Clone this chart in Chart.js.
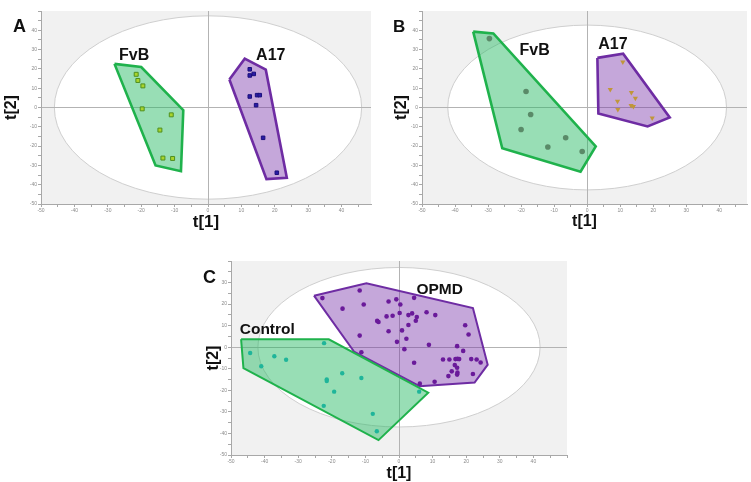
<!DOCTYPE html>
<html><head><meta charset="utf-8">
<script src="https://cdn.jsdelivr.net/npm/chart.js@4/dist/chart.umd.min.js"></script>
<style>
html,body{margin:0;padding:0;background:#fff;width:751px;height:482px;overflow:hidden;position:relative;font-family:"Liberation Sans",Arial,sans-serif}
canvas{position:absolute}
.pl{position:absolute;font-weight:bold;color:#111;line-height:1;font-family:"Liberation Sans",Arial,sans-serif}
</style></head>
<body>
<canvas id="cA" width="376" height="240" style="left:0;top:0"></canvas>
<canvas id="cB" width="371" height="240" style="left:380px;top:0"></canvas>
<canvas id="cC" width="390" height="240" style="left:190px;top:245px"></canvas>
<div class="pl" style="left:13px;top:17px;font-size:18px">A</div>
<div class="pl" style="left:393px;top:17.5px;font-size:17px">B</div>
<div class="pl" style="left:203px;top:268px;font-size:18px">C</div>
<script>
// ---------- data (t[1], t[2] scores) ----------
const panelATitle = 'A', panelBTitle = 'B', panelCTitle = 'C';
const axisXLabel = 't[1]', axisYLabel = 't[2]';

// Panel A
const fvbA = [[-21.5,17.2],[-21.0,14.0],[-19.5,11.2],[-19.7,-0.7],[-11.0,-3.8],[-14.4,-11.7],[-13.5,-26.2],[-10.6,-26.4]];
const fvbAHull = [[-28.0,22.6],[-20.0,21.0],[-7.4,-1.4],[-8.1,-33.0],[-15.7,-30.0]];
const a17A = [[12.5,19.8],[12.5,16.6],[13.7,17.4],[12.5,5.7],[14.7,6.4],[15.5,6.4],[14.4,1.2],[16.5,-15.7],[20.6,-33.8]];
const a17AHull = [[6.4,14.5],[11.0,25.3],[17.3,19.6],[23.6,-36.4],[17.5,-37.1]];

// Panel B
const fvbB = [[-29.6,35.7],[-18.5,8.3],[-17.1,-3.6],[-20.0,-11.4],[-6.5,-15.7],[-11.9,-20.5],[-1.5,-22.8]];
const fvbBHull = [[-34.5,39.3],[-28.4,38.4],[2.6,-20.2],[-2.0,-33.3],[-25.7,-21.1]];
const a17B = [[10.8,23.6],[7.0,9.3],[13.4,7.8],[14.6,4.8],[9.2,3.3],[13.3,1.0],[14.0,0.5],[9.3,-1.0],[19.7,-5.4]];
const a17BHull = [[3.1,25.7],[10.9,27.9],[25.0,-5.2],[18.3,-9.8],[3.4,-3.1]];

// Panel C
const controlC = [[-44.3,-2.7],[-41.0,-8.8],[-37.1,-4.2],[-33.6,-5.8],[-22.3,1.9],[-16.9,-12.1],[-21.5,-15.0],[-21.5,-15.7],[-19.3,-20.6],[-11.2,-14.3],[-22.4,-27.2],[-7.8,-30.9],[-6.6,-39.0],[6.0,-20.6]];
const controlCHull = [[-47.0,3.7],[-20.9,3.7],[8.7,-21.1],[-6.1,-43.1],[-46.3,-9.7]];
const opmdC = [[-22.8,22.8],[-11.7,26.3],[-16.8,17.9],[-10.5,19.8],[-3.1,21.2],[-0.8,22.2],[0.4,19.8],[4.5,22.9],[-3.7,14.3],[-1.9,14.6],[0.2,15.9],[2.8,14.9],[3.9,15.7],[5.3,14.0],[5.0,12.3],[8.2,16.2],[10.8,14.9],[-6.5,12.2],[-6.1,11.7],[-3.1,7.4],[0.9,7.8],[2.8,10.3],[-11.7,5.4],[-0.6,2.5],[2.2,3.9],[8.9,1.1],[19.7,10.2],[20.7,5.9],[-11.2,-2.3],[1.6,-0.9],[17.3,0.5],[19.1,-1.7],[4.5,-7.2],[13.1,-5.7],[15.0,-5.7],[16.8,-5.5],[17.4,-5.4],[17.9,-5.5],[21.5,-5.5],[23.1,-5.7],[24.3,-7.1],[16.6,-8.3],[17.3,-9.5],[15.7,-11.2],[17.4,-11.8],[17.3,-12.7],[14.7,-13.4],[22.0,-12.4],[10.6,-16.0],[6.2,-16.9]];
const opmdCHull = [[-25.3,23.9],[-9.7,29.7],[22.0,18.2],[26.4,-8.1],[22.5,-16.4],[6.1,-18.1],[-13.4,-2.0]];

// Tick labels
const xTickLabels = [-50,-40,-30,-20,-10,0,10,20,30,40];
const yTickLabelsAB = [-50,-40,-30,-20,-10,0,10,20,30,40];
const yTickLabelsC = [-50,-40,-30,-20,-10,0,10,20,30];
const minorTicks = [-50,-45,-40,-35,-30,-25,-20,-15,-10,-5,0,5,10,15,20,25,30,35,40,45,50];

// Group names
const groupNames = {fvb:'FvB', a17:'A17', control:'Control', opmd:'OPMD'};

// ---------- helpers ----------
const F = '"Liberation Sans", Arial, sans-serif';
const pts = a => a.map(p => ({x:p[0], y:p[1]}));
const closed = a => pts(a.concat([a[0]]));
const GREEN = '#1fb24c', GREEN_F = 'rgba(40,185,100,0.48)';
const PURP = '#6e2ca3', PURP_F = 'rgba(120,50,170,0.43)';

function hull(data, color, fillc, bw, order){
  return {type:'line', data:closed(data), borderColor:color, backgroundColor:fillc, borderWidth:bw,
    fill:'shape', pointRadius:0, tension:0, borderJoinStyle:'miter', order:order};
}
function scatter(data, style, r, bg, bc, bwid, rot){
  return {type:'scatter', data:pts(data), pointStyle:style, pointRadius:r, backgroundColor:bg,
    borderColor:bc, borderWidth:bwid, rotation:rot||0, order:0};
}

function panel(id, o){
  const bg = {id:'bg', beforeDraw(chart){
    const {ctx, chartArea:a, scales:{x,y}} = chart;
    ctx.save();
    ctx.fillStyle = '#f1f1f1';
    ctx.fillRect(a.left, a.top, a.right-a.left, a.bottom-a.top);
    ctx.beginPath(); ctx.rect(a.left, a.top, a.right-a.left, a.bottom-a.top); ctx.clip();
    const cx = x.getPixelForValue(0), cy = y.getPixelForValue(0);
    const rx = Math.abs(x.getPixelForValue(o.ell[0]) - cx), ry = Math.abs(y.getPixelForValue(o.ell[1]) - cy);
    ctx.beginPath(); ctx.ellipse(cx, cy, rx, ry, 0, 0, Math.PI*2);
    ctx.fillStyle = '#ffffff'; ctx.fill();
    ctx.strokeStyle = '#cfcfcf'; ctx.lineWidth = 1; ctx.stroke();
    ctx.restore();
  }};
  const lbl = {id:'lbl', afterDatasetsDraw(chart){
    const {ctx, scales:{x,y}} = chart;
    ctx.save();
    ctx.fillStyle = '#111'; ctx.textAlign = 'center'; ctx.textBaseline = 'middle';
    o.labels.forEach(l => {
      ctx.font = 'bold ' + l.size + 'px ' + F;
      ctx.fillText(l.text, x.getPixelForValue(l.x), y.getPixelForValue(l.y));
    });
    ctx.restore();
  }};
  const gridCfg = {color: c => (c.tick && c.tick.value === 0) ? '#b3b3b3' : 'rgba(0,0,0,0)',
    tickColor:'#a8a8a8', tickLength:3, lineWidth:1};
  return new Chart(document.getElementById(id), {
    type:'scatter',
    data:{datasets:o.datasets},
    options:{
      responsive:false, animation:false, devicePixelRatio:1, events:[],
      layout:{padding:{left:0, right:o.padR, top:o.padT, bottom:0}},
      plugins:{legend:{display:false}, tooltip:{enabled:false}},
      scales:{
        x:{type:'linear', min:-50, max:o.xMax,
          afterBuildTicks: s => { s.ticks = minorTicks.filter(v => v <= o.xMax).map(v => ({value:v})); },
          afterFit: s => { s.height = o.xH; },
          ticks:{font:{size:5, family:F}, color:'#8a8a8a', padding:1, autoSkip:false, maxRotation:0,
            callback: v => xTickLabels.includes(v) ? String(v) : ''},
          grid: gridCfg, border:{color:'#a8a8a8'},
          title:{display:true, text:axisXLabel, color:'#111', font:{size:o.t1Size, weight:'bold', family:F},
            padding:{top:0, bottom:o.t1Pad}}
        },
        y:{type:'linear', min:-50, max:o.yMax,
          afterBuildTicks: s => { s.ticks = minorTicks.filter(v => v <= o.yMax).map(v => ({value:v})); },
          afterFit: s => { s.width = o.yW; },
          ticks:{font:{size:5, family:F}, color:'#8a8a8a', padding:1, autoSkip:false,
            callback: v => o.yLabels.includes(v) ? String(v) : ''},
          grid: gridCfg, border:{color:'#a8a8a8'},
          title:{display:true, text:axisYLabel, color:'#111', font:{size:16, weight:'bold', family:F},
            padding:{top:o.t2Pad, bottom:0}}
        }
      }
    },
    plugins:[bg, lbl]
  });
}

panel('cA', {
  xMax:48.8, yMax:50, yW:41, xH:36, padR:1, padT:11, t1Size:17, t1Pad:7.8, t2Pad:2.4,
  yLabels:yTickLabelsAB, ell:[46,47.5],
  labels:[{text:groupNames.fvb, x:-22.1, y:27.1, size:16},{text:groupNames.a17, x:18.8, y:26.9, size:16}],
  datasets:[
    hull(fvbAHull, GREEN, GREEN_F, 2.6, 2),
    hull(a17AHull, PURP, PURP_F, 2.6, 2),
    scatter(fvbA, 'rect', 2.8, '#a9d42c', '#4f8f1f', 1),
    scatter(a17A, 'rect', 2.5, '#2a1aa6', '#1a107a', 1)
  ]
});

panel('cB', {
  xMax:48.4, yMax:50, yW:42, xH:36, padR:0, padT:11, t1Size:16, t1Pad:8.4, t2Pad:12.4,
  yLabels:yTickLabelsAB, ell:[42.2,42.7],
  labels:[{text:groupNames.fvb, x:-15.9, y:29.5, size:16},{text:groupNames.a17, x:7.8, y:32.8, size:16}],
  datasets:[
    hull(fvbBHull, GREEN, GREEN_F, 2.6, 2),
    hull(a17BHull, PURP, PURP_F, 2.6, 2),
    scatter(fvbB, 'circle', 2.8, '#5a8a68', '#4a7a58', 0),
    scatter(a17B, 'triangle', 3, '#c0963a', '#a07a2a', 0, 180)
  ]
});

panel('cC', {
  xMax:50, yMax:40, yW:41, xH:30, padR:13, padT:16, t1Size:16, t1Pad:1.4, t2Pad:14.4,
  yLabels:yTickLabelsC, ell:[42,37],
  labels:[{text:groupNames.control, x:-39.2, y:8.1, size:15.5},{text:groupNames.opmd, x:12.1, y:26.9, size:15.5}],
  datasets:[
    hull(opmdCHull, PURP, PURP_F, 2, 3),
    hull(controlCHull, GREEN, GREEN_F, 2, 2),
    scatter(controlC, 'circle', 2.2, '#1fb59a', '#1fb59a', 0),
    scatter(opmdC, 'circle', 2.3, '#6a1a9a', '#6a1a9a', 0)
  ]
});
</script>
</body></html>
